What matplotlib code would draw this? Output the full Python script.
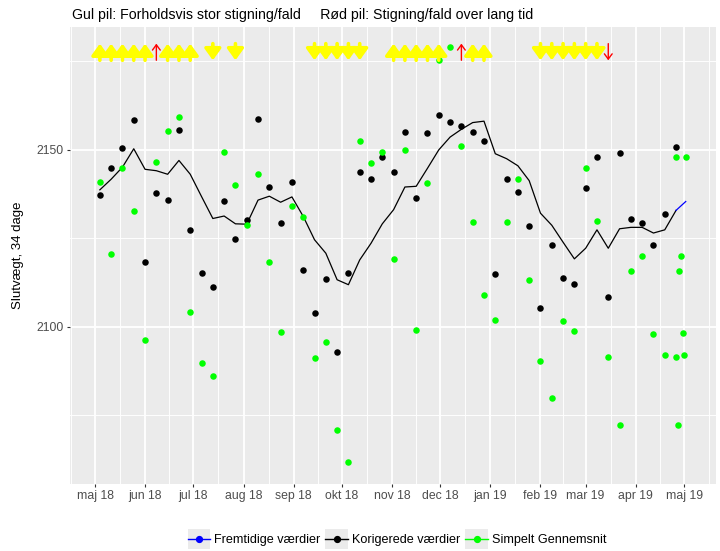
import matplotlib
matplotlib.use("Agg")
import matplotlib.pyplot as plt
import matplotlib.dates as mdates
from matplotlib.lines import Line2D
from matplotlib.patches import Rectangle
from matplotlib.legend_handler import HandlerLine2D
import numpy as np
import pandas as pd

plt.rcParams['font.family'] = ['Liberation Sans', 'DejaVu Sans']

# ---------------- data ----------------
week_dates = pd.date_range('2018-05-04', periods=52, freq='7D')

korigerede = [2137.1, 2144.8, 2150.4, 2158.4, 2118.2, 2137.8, 2135.7, 2155.7, 2127.3, 2115.2,
              2111.2, 2135.5, 2124.8, 2130.3, 2158.8, 2139.5, 2129.3, 2140.9, 2116.1, 2103.8,
              2113.5, 2093.0, 2115.1, 2143.8, 2141.7, 2148.1, 2143.8, 2154.9, 2136.4, 2154.7,
              2159.9, 2158.0, 2156.6, 2155.1, 2152.6, 2114.9, 2141.7, 2138.1, 2128.5, 2105.2,
              2123.2, 2113.7, 2112.2, 2139.1, 2148.1, 2108.5, 2149.0, 2130.4, 2129.3, 2123.0,
              2131.8, 2150.8]

gennemsnit = [2140.8, 2120.7, 2144.8, 2132.7, 2096.3, 2146.5, 2155.2, 2159.3, 2104.2, 2089.7,
              2086.0, 2149.4, 2140.0, 2128.9, 2143.1, 2118.2, 2098.6, 2134.1, 2131.0, 2091.2,
              2095.8, 2070.9, 2061.7, 2152.5, 2146.3, 2149.4, 2119.2, 2150.0, 2099.2, 2140.7,
              2175.4, 2179.1, 2151.2, 2129.7, 2109.1, 2101.9, 2129.7, 2141.9, 2113.3, 2090.3,
              2079.9, 2101.7, 2098.8, 2145.0, 2129.9, 2091.5, 2072.4, 2115.7, 2120.1, 2098.1,
              2092.0, 2148.1]

# trailing daily simple averages
tail_dates = pd.date_range('2019-04-26', periods=7, freq='D')
tail_gennemsnit = [2091.6, 2072.3, 2115.7, 2120.1, 2098.2, 2092.1, 2148.1]

# smoothed line (korigerede)
linje = [2138.7, 2141.7, 2145.1, 2150.3, 2144.5, 2144.1, 2143.1, 2147.0, 2143.1, 2136.8,
         2130.6, 2131.3, 2129.1, 2129.0, 2135.8, 2136.9, 2135.2, 2136.7, 2131.2, 2124.6,
         2120.8, 2113.3, 2111.9, 2118.9, 2123.6, 2129.1, 2133.1, 2139.5, 2139.7, 2144.8,
         2150.0, 2153.6, 2155.8, 2157.7, 2158.1, 2148.9, 2147.5, 2145.5, 2141.3, 2132.1,
         2128.7, 2123.9, 2119.2, 2122.2, 2127.4, 2122.2, 2127.7, 2128.1, 2128.1, 2126.5,
         2127.4, 2132.9]

# future values (blue)
fremtid_dates = ['2019-04-26', '2019-05-02']
fremtid = [2132.9, 2135.4]

# arrows (week numbers, 1-based)
gul_op = [1, 2, 3, 4, 5, 7, 8, 9, 27, 28, 29, 30, 31, 34, 35]
gul_ned = [11, 13, 20, 21, 22, 23, 24, 40, 41, 42, 43, 44, 45]
roed_op = [6, 33]
roed_ned = [46]
pil_lav, pil_hoej = 2175.3, 2180.0

month_ticks = pd.date_range('2018-05-01', '2019-05-01', freq='MS')
month_labels = ['maj 18', 'jun 18', 'jul 18', 'aug 18', 'sep 18', 'okt 18', 'nov 18',
                'dec 18', 'jan 19', 'feb 19', 'mar 19', 'apr 19', 'maj 19']
y_major = [2100, 2150]
y_minor = [2075, 2125, 2175]

title_text = "Gul pil: Forholdsvis stor stigning/fald     Rød pil: Stigning/fald over lang tid"
ylabel_text = "Slutvægt, 34 dage"
legend_labels = ["Fremtidige værdier", "Korigerede værdier", "Simpelt Gennemsnit"]

# ---------------- figure ----------------
W, H = 720, 551
fig = plt.figure(figsize=(W / 100, H / 100), dpi=100)
L, R, T, B = 70, 716, 27, 484
ax = fig.add_axes([L / W, 1 - B / H, (R - L) / W, (B - T) / H])
ax.set_facecolor('#EBEBEB')
for s in ax.spines.values():
    s.set_visible(False)

xmin = pd.Timestamp('2018-04-15 12:00')
xmax = pd.Timestamp('2019-05-20 18:00')
ax.set_xlim(xmin, xmax)
ax.set_ylim(2055.6, 2184.7)

# grid
ext = pd.date_range('2018-04-01', '2019-06-01', freq='MS')
extn = mdates.date2num(ext)
minor_x = (extn[:-1] + extn[1:]) / 2
ax.set_xticks(mdates.date2num(month_ticks))
ax.set_xticklabels(month_labels)
ax.set_xticks(minor_x, minor=True)
ax.set_yticks(y_major)
ax.set_yticks(y_minor, minor=True)
ax.grid(which='major', color='white', lw=1.3)
ax.grid(which='minor', color='white', lw=0.65)
ax.set_axisbelow(True)
ax.tick_params(which='major', length=2.5, width=0.8, color='#333333',
               labelcolor='#4D4D4D', labelsize=8.8, pad=2)
ax.tick_params(which='minor', length=0)

# line
ax.plot(week_dates, linje, color='black', lw=0.9, zorder=3)
ax.plot(pd.to_datetime(fremtid_dates), fremtid, color='blue', lw=0.9, zorder=3)

# points
ax.scatter(week_dates, korigerede, s=22, color='black', zorder=4, linewidths=0)
ax.scatter(week_dates, gennemsnit, s=22, color='#00FF00', zorder=5, linewidths=0)
ax.scatter(tail_dates, tail_gennemsnit, s=22, color='#00FF00', zorder=5, linewidths=0)

# arrows
def arrow(week, up, color, thick):
    x = mdates.date2num(week_dates[week - 1])
    y0, y1 = (pil_lav, pil_hoej) if up else (pil_hoej, pil_lav)
    if thick:
        style = '-|>,head_length=6.8,head_width=4.9'
        lw = 2.6
    else:
        style = '->,head_length=3.8,head_width=2.8'
        lw = 1.0
    ax.annotate('', xy=(x, y1), xytext=(x, y0),
                arrowprops=dict(arrowstyle=style, color=color, lw=lw,
                                shrinkA=0, shrinkB=0, mutation_scale=1),
                zorder=6)

for w in gul_op:
    arrow(w, True, '#FFFF00', True)
for w in gul_ned:
    arrow(w, False, '#FFFF00', True)
for w in roed_op:
    arrow(w, True, 'red', False)
for w in roed_ned:
    arrow(w, False, 'red', False)

# texts
fig.text(72 / W, 1 - 15 / H, title_text, fontsize=10.2, va='center', ha='left', color='black')
fig.text(18 / W, 1 - 255 / H, ylabel_text, fontsize=9.5, rotation=90, va='center', ha='center',
         color='black')

# legend
class KeyHandler(HandlerLine2D):
    def create_artists(self, legend, orig_handle, xdescent, ydescent, width, height, fontsize, trans):
        arts = super().create_artists(legend, orig_handle, xdescent, ydescent, width, height,
                                      fontsize, trans)
        side = width * 0.9
        rect = Rectangle((-xdescent, -ydescent + height / 2 - side / 2), width, side,
                         facecolor='#EBEBEB', edgecolor='none', transform=trans)
        return [rect] + arts

handles = [Line2D([], [], color=c, marker='o', markersize=4.2, lw=1.0)
           for c in ['blue', 'black', '#00FF00']]
fig.legend(handles, legend_labels, loc='center', bbox_to_anchor=(397 / W, 1 - 540 / H),
           ncol=3, frameon=False, fontsize=9.1, handlelength=1.8, handleheight=1.0,
           handletextpad=0.3, columnspacing=0.4,
           handler_map={Line2D: KeyHandler(marker_pad=0)})

fig.savefig('out.png', dpi=100)
